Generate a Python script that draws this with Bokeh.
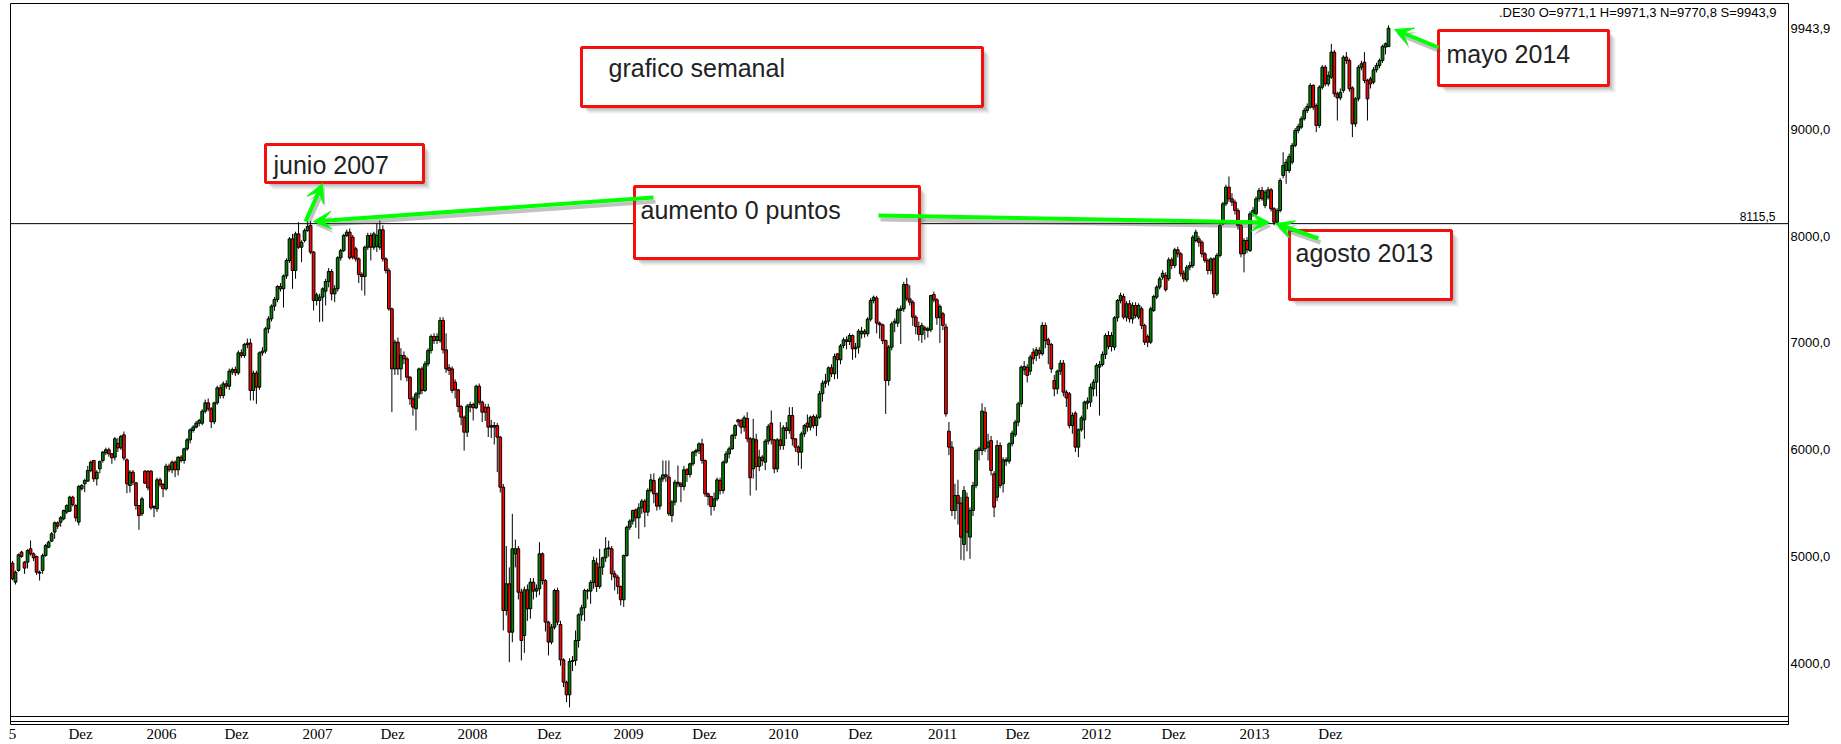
from bokeh.plotting import figure
from bokeh.models import (Range1d, FixedTicker, Span, BoxAnnotation, Label,
                          Arrow, VeeHead, ColumnDataSource)
from bokeh.embed import file_html
from bokeh.resources import INLINE

# ---------------- data (weekly DE30 candles) ----------------
opens = [
4940,4762,4871,5043,4949,4949,5074,5027,5002,4855,
4871,5011,5089,5145,5230,5317,5323,5354,5417,5426,
5557,5479,5323,5635,5682,5707,5806,5900,5729,5822,
5900,5972,6000,5962,5931,6060,6018,6140,5906,5666,
5791,5691,5479,5401,5800,5800,5800,5470,5448,5719,
5676,5635,5847,5813,5884,5813,5931,5900,6009,6093,
6181,6212,6249,6249,6361,6439,6383,6262,6439,6580,
6508,6617,6595,6727,6751,6720,6907,6882,6998,6998,
6555,6717,6586,6907,6923,7132,7225,7344,7406,7528,
7506,7627,7771,7973,7677,
8020,7895,7958,8051,8098,7849,7397,7397,7428,7484,
7574,7668,7459,7506,7796,7864,8005,8036,7989,7880,
7786,7640,7621,7895,8005,7895,7900,7895,8058,7786,
7677,7319,6757,7007,6757,6882,6851,6679,6477,6383,
6523,6757,6555,6804,6929,7060,7022,7022,7210,6935,
6767,6757,6633,6561,6405,6305,6165,6399,6424,6393,
6595,6446,6399,6399,6212,6227,6227,6118,5650,4497,
4746,4294,5027,5074,4668,4263,4690,4513,4762,4678,
4700,5027,4777,4388,4201,4341,4684,4366,4035,3826,
3708,4020,4029,4216,4456,4522,4684,4678,4759,4940,
4721,4902,4990,5074,5074,4840,4809,4721,4597,5011,
5276,5333,5438,5364,5457,5520,5417,5619,5713,5588,
5473,5728,5766,5744,5385,5510,5697,5681,5657,5813,
5769,5869,5978,5993,6056,5900,5588,5563,5470,5541,
5713,5619,5884,5962,6009,6134,6280,6274,6212,6293,
6103,5822,6094,5844,5931,5884,6081,6249,6093,5822,
6093,6040,6206,6181,6321,6103,6025,5978,6149,6250,
6212,6312,6227,6305,6524,6623,6642,6767,6711,6898,
6842,6976,
7029,7013,7069,6945,6960,7085,7110,7085,7222,7397,
7420,7185,7169,7022,6648,6960,7185,7185,7303,7319,
7546,7412,7381,7241,7153,7079,7141,7116,7122,7453,
7403,7235,7272,7150,6174,6025,5432,5573,5501,5114,
5557,5183,5432,5666,5993,5993,6352,6025,6087,5775,
5557,6040,5682,5894,5894,6056,6140,6259,6430,6748,
6773,6736,6913,6882,6929,6898,7163,7029,6985,6648,
6570,6736,6810,6539,6524,6227,6343,6025,6187,6280,
6436,6446,6570,6633,6773,6798,6892,7069,6966,6960,
7235,
7397,7434,7241,7366,7225,7350,7241,7319,7163,7060,
7007,7303,7428,7522,7615,7631,7600,7777,7724,7871,
7833,7652,7590,7708,7724,7958,7974,7942,7833,7771,
7677,7786,7459,7818,8114,8301,8457,8348,8317,8239,
8098,7833,7958,7864,8207,8207,8348,8426,8285,8363,
8432,8254,8129,8239,8566,8613,8613,8691,8847,8987,
9018,9096,9174,9205,9408,9221,9034,9392,9579,9423,
9486,9720,9330,9292,9361,9673,9642,9386,9049,9283,
9579,9626,9455,9470,9439,9554,9595,9642,9767,9771.1,
]

highs = [
4960,4870,5030,5055,4960,5070,5152,5040,5010,4870,
5030,5120,5150,5230,5330,5330,5380,5440,5490,5570,
5570,5490,5670,5680,5730,5850,5900,5905,5810,5900,
5990,6020,6020,5970,6120,6110,6140,6171,5920,5810,
5810,5700,5480,5560,5810,5810,5810,5480,5740,5740,
5690,5870,5870,5900,5900,5940,5950,6020,6110,6200,
6230,6270,6290,6380,6470,6480,6400,6450,6600,6610,
6640,6650,6760,6770,6780,6930,6940,7000,7040,7040,
6740,6740,6920,6960,7150,7250,7360,7430,7540,7560,
7640,7790,7990,8020,8040,
8129,7960,8070,8151,8140,7860,7470,7460,7520,7600,
7700,7690,7540,7810,7880,8020,8060,8070,8010,7900,
7800,7660,7910,8030,8030,8040,8120,8145,8100,7800,
7700,7330,7030,7050,6950,6920,6870,6690,6500,6540,
6770,6780,6830,6950,7080,7090,7090,7241,7240,7090,
6800,6780,6660,6570,6420,6320,6430,6450,6440,6610,
6620,6460,6430,6430,6280,6260,6250,6130,5680,5100,
4900,5401,5160,5100,4700,4720,4740,4800,4800,4740,
5136,5040,4790,4400,4370,4700,4710,4400,4050,3840,
4050,4070,4310,4470,4550,4700,4700,4780,5000,4990,
5074,5000,5183,5150,5100,4870,4830,4730,5020,5290,
5350,5440,5450,5500,5540,5540,5640,5775,5780,5600,
5750,5900,5900,5900,5530,5720,5853,5700,5850,5830,
5880,5990,6010,6070,6103,5910,5600,5570,5600,5740,
5740,5900,5990,6030,6150,6240,6290,6290,6320,6352,
6120,6290,6150,6000,5950,6100,6240,6368,6100,6110,
6259,6230,6260,6399,6400,6110,6040,6170,6240,6330,
6320,6330,6330,6550,6650,6710,6780,6800,6900,6900,
6990,7050,
7060,7090,7080,7000,7130,7150,7130,7240,7420,7443,
7440,7200,7180,7030,6980,7200,7230,7330,7350,7570,
7609,7540,7400,7260,7200,7190,7160,7150,7450,7480,
7420,7360,7290,7180,6260,6080,5682,5720,5560,5660,
5600,5460,5700,6010,6030,6436,6400,6150,6130,5800,
6090,6070,5930,5930,6070,6180,6280,6450,6790,6830,
6800,6890,6950,6960,6960,7194,7190,7050,7000,6700,
6750,6840,6840,6560,6540,6350,6360,6200,6320,6460,
6490,6620,6660,6810,6830,6920,7090,7110,7100,7250,
7410,
7470,7460,7390,7400,7380,7380,7370,7340,7180,7080,
7340,7450,7540,7620,7680,7660,7800,7800,7890,7900,
7850,7680,7730,7760,8010,8060,8000,7960,7850,7790,
7800,7800,7840,8120,8320,8480,8557,8400,8340,8260,
8120,7980,7990,8230,8270,8370,8450,8460,8430,8460,
8450,8270,8260,8540,8784,8720,8770,8870,9010,9050,
9120,9200,9240,9430,9420,9240,9410,9600,9600,9540,
9798,9740,9350,9380,9690,9720,9660,9400,9300,9600,
9640,9720,9470,9490,9580,9620,9660,9790,9810,9971.3,
]

lows = [
4780,4740,4860,4990,4840,4890,5010,4960,4830,4777,
4840,5000,5080,5140,5167,5260,5280,5340,5400,5420,
5470,5330,5292,5620,5604,5700,5790,5700,5666,5780,
5880,5950,5935,5869,5900,5980,6000,5900,5594,5600,
5670,5440,5251,5380,5680,5620,5440,5370,5420,5650,
5557,5620,5790,5780,5744,5760,5880,5870,5990,6060,
6160,6200,6220,6230,6340,6360,6203,6240,6420,6480,
6480,6570,6560,6700,6690,6700,6860,6860,6950,6461,
6461,6430,6560,6880,6900,7091,7200,7300,7380,7480,
7330,7600,7750,7506,7600,
7880,7755,7940,8040,7830,7303,7350,7194,7200,7350,
7520,7397,7381,7480,7770,7850,7990,7780,7780,7760,
7560,7490,7443,7870,7771,7870,7850,7870,7760,7650,
7300,6352,6700,6700,6650,6800,6640,6420,6320,6181,
6480,6520,6540,6780,6900,6990,6990,7000,6900,6720,
6700,6530,6480,6350,6230,5993,6120,6350,6274,6380,
6420,6260,6270,6120,6110,6050,5791,5600,4310,4450,
4013,4200,4900,4600,4029,4100,4400,4420,4600,4620,
4640,4740,4300,4076,4180,4320,4360,3980,3780,3640,
3590,3930,3980,4150,4400,4397,4600,4559,4700,4670,
4700,4830,4950,5000,4780,4684,4650,4544,4530,5000,
5250,5300,5270,5167,5400,5276,5380,5600,5500,5430,
5440,5700,5700,5380,5323,5480,5650,5510,5620,5700,
5740,5850,5940,5960,5870,5560,5480,5385,5430,5520,
5580,5590,5870,5920,6000,6100,6220,6150,6170,6070,
5572,5730,5620,5800,5850,5810,6050,6050,5780,5790,
6000,6000,6100,6150,6040,5980,5853,5822,6120,6170,
6180,6200,6130,6290,6450,6580,6600,6680,6660,6664,
6800,6950,
6940,6980,6842,6860,6900,7040,7050,7060,7200,7370,
7090,7040,6990,6336,6600,6930,7100,7150,6990,7290,
7390,7350,7160,7080,7020,7000,7030,7050,7100,7380,
7170,7000,7120,6310,5950,5380,5350,5300,4971,4965,
5050,4980,5380,5640,5900,5950,5980,5900,5760,5370,
5520,5640,5600,5850,5870,6030,6120,6220,6400,6700,
6630,6700,6800,6830,6850,6880,6950,6800,6720,6500,
6520,6700,6500,6400,6200,6150,5980,5931,6170,6103,
6380,6400,6500,6500,6320,6780,6850,6940,6920,6930,
7200,
7370,7220,7200,7190,7180,7230,7220,7130,6980,6960,
6990,7290,7410,7500,7590,7480,7580,7690,7700,7800,
7620,7570,7570,7680,7700,7940,7900,7800,7750,7640,
7640,7420,7440,7800,8100,8280,8320,8280,8200,8060,
7800,7660,7840,7850,8180,8190,8320,8330,8260,8340,
8230,8100,8110,8220,8540,8488,8590,8670,8830,8960,
9000,9080,9150,9190,9180,8971,9010,9370,9400,9400,
9470,9300,9080,9270,9340,9610,9350,8925,9020,9260,
9550,9430,9080,9380,9420,9530,9570,9620,9700,9770.8,
]

closes = [
4793,4855,5018,5002,4893,5058,5027,4990,4855,4846,
5011,5105,5136,5214,5317,5286,5364,5432,5479,5557,
5488,5364,5657,5666,5713,5806,5884,5729,5790,5890,
5978,6000,5962,5925,6103,6018,6124,5922,5682,5791,
5697,5479,5385,5541,5688,5644,5457,5457,5719,5676,
5635,5847,5813,5884,5813,5931,5900,6009,6093,6187,
6212,6249,6274,6361,6439,6383,6262,6439,6580,6508,
6617,6595,6736,6751,6720,6907,6882,6985,6985,6555,
6717,6586,6907,6923,7132,7225,7344,7406,7528,7506,
7627,7771,7973,7677,8020,
7895,7942,8051,8089,7849,7397,7450,7428,7506,7574,
7668,7459,7506,7796,7864,8005,8036,7796,7802,7786,
7640,7621,7895,8005,7895,8020,8005,8058,7786,7677,
7319,6757,7007,6757,6882,6851,6679,6477,6399,6523,
6757,6555,6804,6929,7060,7022,7060,7210,6935,6757,
6742,6555,6561,6405,6305,6165,6408,6424,6393,6595,
6446,6352,6352,6212,6227,6212,6118,5650,4497,4746,
4294,5074,5074,4668,4216,4690,4513,4762,4678,4700,
5027,4777,4388,4201,4341,4684,4388,4035,3826,3708,
4020,4029,4216,4456,4522,4684,4678,4759,4964,4721,
4902,4990,5074,5083,4840,4809,4721,4597,5011,5276,
5333,5432,5364,5457,5520,5417,5619,5719,5588,5473,
5728,5766,5750,5401,5510,5697,5681,5657,5813,5769,
5869,5978,5993,6056,5900,5588,5563,5470,5541,5719,
5619,5884,5962,6009,6134,6227,6262,6212,6299,6103,
5738,6103,5844,5931,5900,6081,6218,6093,5822,6093,
6040,6206,6181,6321,6103,6025,5978,6149,6227,6212,
6305,6227,6305,6524,6623,6642,6767,6711,6873,6842,
6972,7029,
7013,7069,6945,6960,7110,7110,7085,7222,7397,7427,
7185,7169,7022,6648,6960,7178,7203,7309,7319,7546,
7412,7381,7241,7153,7079,7163,7122,7132,7443,7403,
7235,7341,7163,6336,6025,5432,5573,5501,5183,5619,
5230,5432,5666,5993,6009,6362,6009,6072,5806,5463,
6040,5666,5906,5906,6056,6156,6259,6430,6773,6779,
6695,6867,6851,6935,6898,7163,7022,6985,6757,6570,
6736,6810,6539,6486,6227,6321,6025,6187,6299,6446,
6455,6586,6633,6789,6798,6892,7069,6966,7069,7235,
7397,
7444,7241,7366,7225,7350,7256,7350,7163,7007,7007,
7319,7434,7522,7600,7652,7497,7777,7724,7871,7833,
7646,7599,7708,7724,7989,8036,7942,7833,7771,7677,
7786,7459,7818,8098,8301,8457,8348,8317,8239,8098,
7833,7958,7871,8207,8239,8348,8426,8348,8410,8432,
8254,8129,8239,8519,8660,8691,8744,8847,8987,9024,
9096,9174,9211,9408,9205,9034,9392,9579,9423,9501,
9720,9330,9292,9345,9673,9642,9377,9049,9283,9579,
9611,9455,9283,9423,9554,9595,9642,9773,9798,9943.9,
]

# axis tick positions (in weeks from the first candle) and their labels
x_tick_weeks = [0, 22.6, 49.5, 74.4, 101.3, 126.2, 152.8, 178.3, 204.6,
                229.8, 256.1, 281.6, 308.9, 333.8, 360.0, 385.6, 412.5, 437.7]
x_tick_labels = ["5", "Dez", "2006", "Dez", "2007", "Dez", "2008", "Dez", "2009",
                 "Dez", "2010", "Dez", "2011", "Dez", "2012", "Dez", "2013", "Dez"]
y_ticks = [4000, 5000, 6000, 7000, 8000, 9000, 9943.9]
y_tick_labels = ["4000,0", "5000,0", "6000,0", "7000,0", "8000,0", "9000,0", "9943,9"]

level_line = 8115.5
level_label = "8115,5"
header = ".DE30 O=9771,1 H=9971,3 N=9770,8 S=9943,9"

notes = ["grafico semanal", "junio 2007", "aumento 0 puntos", "agosto 2013", "mayo 2014"]

# ---------------- layout helpers (page pixels -> data) ----------------
PX_WEEK = 3.011
X0_PAGE = 12.0
PX_PT = 0.1069
Y8000_PAGE = 235.5


def xd(px):
    return (px - X0_PAGE) / PX_WEEK


def yd(py):
    return 8000.0 - (py - Y8000_PAGE) / PX_PT


FL, FR, FT, FB = 10, 1788, 3, 724   # frame edges on the page
W, H = 1841, 744

n = len(closes)
idx = list(range(n))
hi = [max(h, o, c) for h, o, c in zip(highs, opens, closes)]
lo = [min(l, o, c) for l, o, c in zip(lows, opens, closes)]
colors = ["#008000" if c >= o else "#ff0000" for o, c in zip(opens, closes)]
src = ColumnDataSource(dict(x=idx, o=opens, c=closes, h=hi, l=lo, col=colors))

p = figure(frame_width=FR - FL, frame_height=FB - FT,
           x_range=Range1d(xd(FL), xd(FR)), y_range=Range1d(yd(FB), yd(FT)),
           output_backend="svg", toolbar_location=None,
           min_border_left=FL, min_border_right=W - FR,
           min_border_top=FT, min_border_bottom=H - FB,
           x_axis_location="below", y_axis_location="right")
p.background_fill_color = "white"
p.border_fill_color = "white"
p.outline_line_color = "black"
p.outline_line_width = 1
p.xgrid.visible = False
p.ygrid.visible = False

# candles
p.segment(x0="x", y0="l", x1="x", y1="h", source=src, line_color="black", line_width=1)
p.vbar(x="x", bottom="o", top="c", width=0.9, source=src,
       fill_color="col", line_color="black", line_width=1)

# axes
for ax in (p.xaxis[0], p.yaxis[0]):
    ax.major_tick_out = 0
    ax.major_tick_in = 0
    ax.minor_tick_out = 0
    ax.minor_tick_in = 0
    ax.major_tick_line_color = None
    ax.minor_tick_line_color = None
    ax.axis_label_standoff = 0
    ax.major_label_text_color = "black"

xa = p.xaxis[0]
xa.ticker = FixedTicker(ticks=x_tick_weeks)
xa.major_label_overrides = {t: s for t, s in zip(x_tick_weeks, x_tick_labels)}
xa.axis_line_color = None
xa.major_label_standoff = 1
xa.major_label_text_font = "Liberation Sans Narrow"
xa.major_label_text_font_size = "15px"

ya = p.yaxis[0]
ya.ticker = FixedTicker(ticks=y_ticks)
ya.major_label_overrides = {t: s for t, s in zip(y_ticks, y_tick_labels)}
ya.axis_line_color = "black"
ya.major_label_standoff = 2
ya.major_label_text_font = "Liberation Sans"
ya.major_label_text_font_size = "13px"

# bottom frame line + double separator
for py in (716, 721):
    p.add_layout(Span(location=yd(py), dimension="width", line_color="black", line_width=1))

# price level line
p.add_layout(Span(location=level_line, dimension="width", line_color="black", line_width=1))
p.add_layout(Label(x=xd(1775), y=yd(220), text=level_label, text_align="right",
                   text_baseline="bottom", text_font="Liberation Sans",
                   text_font_size="12px", text_color="black"))

# header text
p.add_layout(Label(x=xd(1776), y=yd(12), text=header, text_align="right",
                   text_baseline="middle", text_font="Liberation Sans",
                   text_font_size="13px", text_color="black"))

# annotation boxes (page px: left, top, right, bottom) and text anchor
boxes = [
    (581, 47, 982, 106, 608, 67),
    (265, 144, 423, 182, 273, 164),
    (634, 186, 919, 258, 640, 209),
    (1289, 230, 1451, 299, 1295, 252),
    (1438, 30, 1608, 85, 1446, 53),
]
for (l, t, r, b, tx, ty), txt in zip(boxes, notes):
    for off, a in ((7, 0.10), (5, 0.16), (3, 0.22)):
        p.add_layout(BoxAnnotation(left=xd(l + off), right=xd(r + off),
                                   top=yd(t + off), bottom=yd(b + off),
                                   fill_color="#606060", fill_alpha=a,
                                   line_color=None, line_alpha=0))
    p.add_layout(BoxAnnotation(left=xd(l), right=xd(r), top=yd(t), bottom=yd(b),
                               fill_color="white", fill_alpha=1.0,
                               line_color="#f51010", line_alpha=1.0, line_width=3))
    p.add_layout(Label(x=xd(tx), y=yd(ty), text=txt, text_align="left",
                       text_baseline="middle", text_font="Liberation Sans",
                       text_font_size="25px", text_color="#222222"))

# green arrows (page px: tail -> head)
arrows = [
    (305, 221, 322, 183),
    (653, 197, 313, 221),
    (878, 215, 1269, 222),
    (1318, 238, 1275, 223),
    (1438, 47, 1394, 29),
]
for x0, y0, x1, y1 in arrows:
    p.add_layout(Arrow(x_start=xd(x0 + 2), y_start=yd(y0 + 4), x_end=xd(x1 + 2), y_end=yd(y1 + 4),
                       line_color="#505050", line_alpha=0.35, line_width=4,
                       end=VeeHead(size=18, fill_color="#505050", fill_alpha=0.35,
                                   line_color=None)))
for x0, y0, x1, y1 in arrows:
    p.add_layout(Arrow(x_start=xd(x0), y_start=yd(y0), x_end=xd(x1), y_end=yd(y1),
                       line_color="#00ff00", line_width=4,
                       end=VeeHead(size=18, fill_color="#00ff00", line_color="#00ff00",
                                   line_width=1)))

open("out.html", "w").write(file_html(p, INLINE))
